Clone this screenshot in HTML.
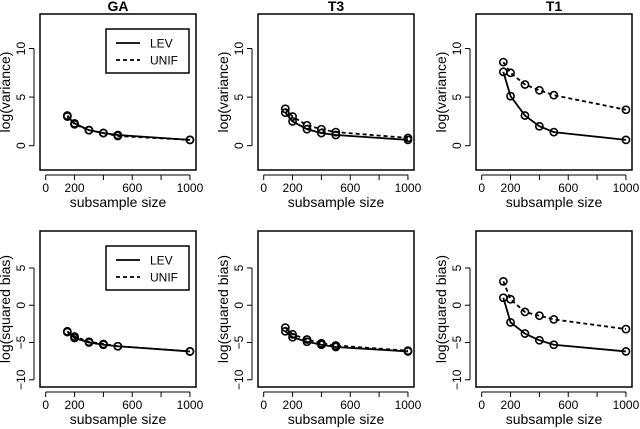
<!DOCTYPE html>
<html><head><meta charset="utf-8"><style>
body{margin:0;background:#fff}
svg{display:block;font-family:"Liberation Sans",Arial,sans-serif}
</style></head><body>
<svg id="c" width="640" height="429" viewBox="0 0 640 429"></svg>
<script>
const xs=[150,200,300,400,500,1000];
const titles=["GA","T3","T1"];
const varLEV=[[3.0,2.3,1.6,1.3,1.1,0.6],[3.4,2.5,1.7,1.3,1.1,0.6],[7.6,5.1,3.1,2.0,1.4,0.6]];
const varUNIF=[[3.1,2.2,1.6,1.3,1.0,0.6],[3.8,3.0,2.1,1.7,1.4,0.8],[8.6,7.5,6.3,5.7,5.2,3.7]];
const biasLEV=[[-3.5,-4.4,-5.0,-5.3,-5.5,-6.2],[-3.5,-4.3,-4.9,-5.3,-5.6,-6.2],[1.0,-2.3,-3.8,-4.7,-5.3,-6.2]];
const biasUNIF=[[-3.6,-4.2,-4.9,-5.2,-5.5,-6.2],[-3.0,-3.9,-4.6,-5.1,-5.4,-6.1],[3.2,0.8,-0.9,-1.4,-1.9,-3.2]];
const xTicks=[0,200,400,600,800,1000];
const xTickLabels=["0","200","","600","","1000"];
const yTicksTop=[0,5,10];
const yTicksBot=[-10,-5,0,5];
const NS="http://www.w3.org/2000/svg";
const svg=document.getElementById('c');
function mk(t,a,p){const e=document.createElementNS(NS,t);for(const k in a)e.setAttribute(k,a[k]);(p||svg).appendChild(e);return e;}
const lefts=[40,258,476];
const rows=[{top:14,ymin:-2.5,ymax:13.55,ticks:yTicksTop,lab:"log(variance)",L:varLEV,U:varUNIF,name:"variance"},
 {top:231,ymin:-10.97,ymax:9.96,ticks:yTicksBot,lab:"log(squared bias)",L:biasLEV,U:biasUNIF,name:"bias"}];
const W=156,H=156;
rows.forEach((r,ri)=>{
 lefts.forEach((left,ci)=>{
  const g=mk('g',{});
  
  
  const X=v=>left+(v+39.5)/1081.5*W;
  const Y=v=>r.top+(r.ymax-v)/(r.ymax-r.ymin)*H;
  const box=mk('rect',{x:left,y:r.top,width:W,height:H,fill:'none',stroke:'#000','stroke-width':1.5},g);
  
  if(ri===0){const t=mk('text',{x:left+W/2,y:11,'text-anchor':'middle','font-size':14,'font-weight':'bold'},g);t.textContent=titles[ci];
   }
  const ax=r.top+H+5;
  mk('line',{x1:X(0),x2:X(1000),y1:ax,y2:ax,stroke:'#000'},g);
  xTicks.forEach((t,i)=>{mk('line',{x1:X(t),x2:X(t),y1:ax,y2:ax+5,stroke:'#000'},g);
   const tx=mk('text',{x:X(t),y:ax+17,'text-anchor':'middle','font-size':12},g);tx.textContent=xTickLabels[i];
   });
  const xl=mk('text',{x:left+W/2,y:r.top+H+37,'text-anchor':'middle','font-size':14},g);xl.textContent="subsample size";
  
  const axx=left-6;
  mk('line',{x1:axx,x2:axx,y1:Y(r.ticks[0]),y2:Y(r.ticks[r.ticks.length-1]),stroke:'#000'},g);
  r.ticks.forEach(t=>{mk('line',{x1:axx,x2:axx-5,y1:Y(t),y2:Y(t),stroke:'#000'},g);
   const tx=mk('text',{x:axx-9,y:Y(t),'text-anchor':'middle','font-size':12,transform:`rotate(-90 ${axx-9} ${Y(t)})`},g);tx.textContent=String(t).replace('-','\u2212');
   });
  const yx=left-30,yy=r.top+H/2;
  const yl=mk('text',{x:yx,y:yy,'text-anchor':'middle','font-size':14,transform:`rotate(-90 ${yx} ${yy})`},g);yl.textContent=r.lab;
  
  [[r.U[ci],'4,3','unif'],[r.L[ci],'','lev']].forEach(([vals,dash,nm])=>{
   const pts=xs.map((x,i)=>X(x)+','+Y(vals[i])).join(' ');
   const pl=mk('polyline',{points:pts,fill:'none',stroke:'#000','stroke-width':1.8,'stroke-dasharray':dash},g);
   
   xs.forEach((x,i)=>{const c=mk('circle',{cx:X(x),cy:Y(vals[i]),r:3.6,fill:'none',stroke:'#000','stroke-width':1.6},g);
    });
  });
  if(ci===0){
   const lg=mk('g',{},g);
   const lx=left+66,ly=r.top+15;
   mk('rect',{x:lx,y:ly,width:83,height:44,fill:'#fff',stroke:'#000','stroke-width':1.5},lg);
   [['LEV',''],['UNIF','4,3']].forEach(([n,d],i)=>{const yy2=ly+14+i*17;
    mk('line',{x1:lx+10,x2:lx+34,y1:yy2,y2:yy2,stroke:'#000','stroke-width':1.8,'stroke-dasharray':d},lg);
    const t=mk('text',{x:lx+44,y:yy2+4.5,'font-size':12},lg);t.textContent=n;
    });
  }
 });
});
</script>
</body></html>
